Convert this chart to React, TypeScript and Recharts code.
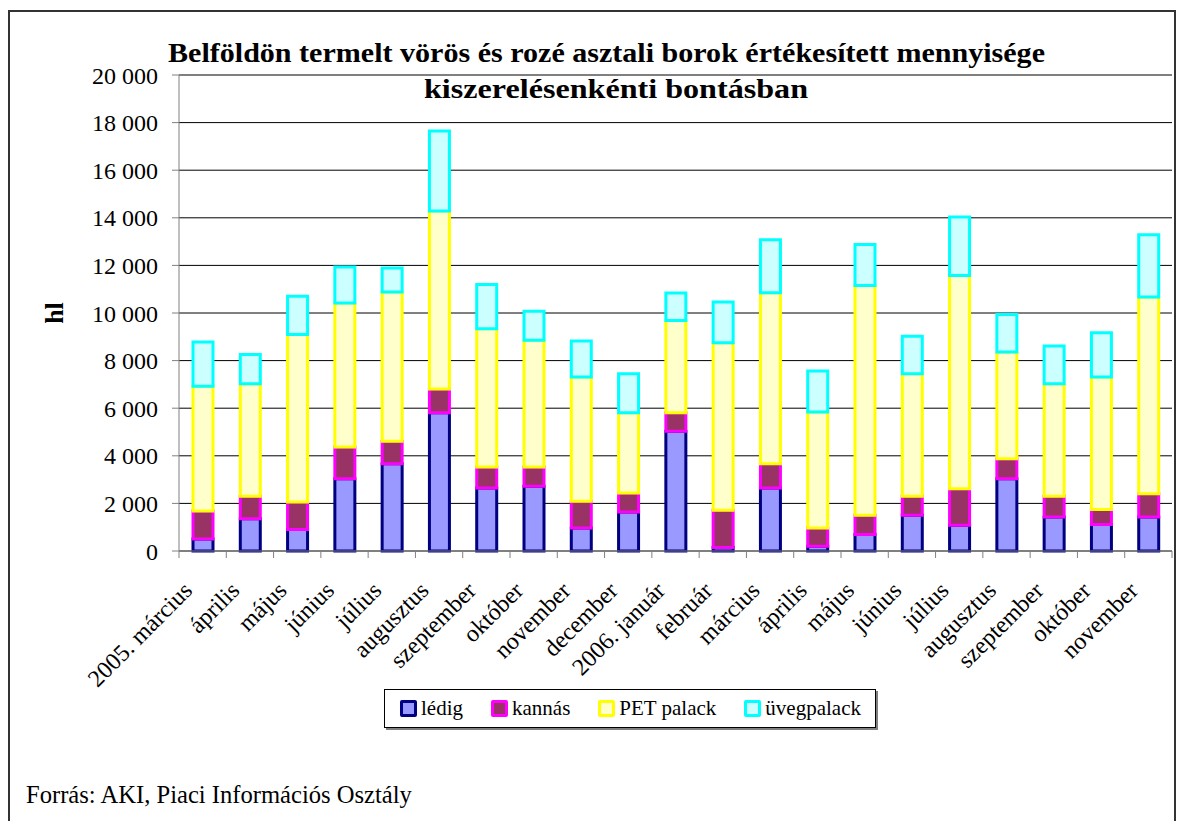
import { BarChart, Bar, XAxis, YAxis, CartesianGrid } from "recharts"

const months = [
  "2005. március", "április", "május", "június", "július", "augusztus",
  "szeptember", "október", "november", "december", "2006. január", "február",
  "március", "április", "május", "június", "július", "augusztus",
  "szeptember", "október", "november",
]

// hl
const ledig = [500, 1360, 900, 3040, 3670, 5810, 2650, 2720, 970, 1640, 5030, 150, 2650, 200, 690, 1500, 1080, 3040, 1430, 1110, 1430]
const kannas = [1180, 940, 1160, 1330, 940, 1000, 880, 810, 1120, 800, 780, 1560, 1020, 770, 810, 800, 1540, 840, 870, 630, 980]
const pet = [5240, 4730, 7040, 6050, 6270, 7480, 5810, 5320, 5220, 3370, 3880, 7040, 7180, 4870, 9660, 5150, 8960, 4480, 4730, 5570, 8260]
const uveg = [1860, 1230, 1600, 1510, 1010, 3360, 1860, 1220, 1510, 1640, 1150, 1710, 2230, 1720, 1720, 1570, 2450, 1580, 1580, 1860, 2620]

const yTicks = [0, 2000, 4000, 6000, 8000, 10000, 12000, 14000, 16000, 18000, 20000]

const SERIES = [
  { key: "ledig", name: "lédig", fill: "#9999FF", stroke: "#000080" },
  { key: "kannas", name: "kannás", fill: "#993366", stroke: "#FF00FF" },
  { key: "pet", name: "PET palack", fill: "#FFFFCC", stroke: "#FFFF00" },
  { key: "uveg", name: "üvegpalack", fill: "#CCFFFF", stroke: "#00FFFF" },
]

const data = months.map((month, i) => ({
  month,
  ledig: ledig[i],
  kannas: kannas[i],
  pet: pet[i],
  uveg: uveg[i],
}))

const W = 1179
const H = 821
const PLOT = { left: 179, right: 1172, top: 75, bottom: 551 }
const FONT = '"Liberation Serif", "Times New Roman", serif'

const fmt = (v: number) => String(v).replace(/\B(?=(\d{3})+(?!\d))/g, " ")

// category ticks sit between the bars, labels are rotated 45°
function MonthTick(props: any) {
  const { x, y, payload, index } = props
  const band = (PLOT.right - PLOT.left) / months.length
  const ax = x - 9
  const ay = y + 41
  return (
    <g>
      <line x1={x - band / 2} x2={x - band / 2} y1={y} y2={y + 7} stroke="#808080" />
      {index === months.length - 1 && (
        <line x1={x + band / 2} x2={x + band / 2} y1={y} y2={y + 7} stroke="#808080" />
      )}
      <text
        x={ax}
        y={ay}
        textAnchor="end"
        transform={`rotate(-45 ${ax} ${ay})`}
        fontSize={24}
        fontFamily={FONT}
        fill="#000"
      >
        {payload.value}
      </text>
    </g>
  )
}

function LegendBox() {
  return (
    <div
      style={{
        position: "absolute", left: 384, top: 689, width: 492, height: 39,
        boxSizing: "border-box", border: "1px solid #000", background: "#fff",
        boxShadow: "2px 2px 0 #808080", display: "flex", alignItems: "center",
        paddingLeft: 15, fontFamily: FONT, fontSize: 21, whiteSpace: "nowrap",
      }}
    >
      {SERIES.map((s) => (
        <div key={s.key} style={{ display: "flex", alignItems: "center", marginRight: 28 }}>
          <span
            style={{
              display: "inline-block", width: 17, height: 17, boxSizing: "border-box",
              background: s.fill, border: `3px solid ${s.stroke}`, borderRadius: 2, marginRight: 4,
            }}
          />
          <span>{s.name}</span>
        </div>
      ))}
    </div>
  )
}

export default function App() {
  return (
    <div style={{ position: "absolute", left: 0, top: 0, width: W, height: H, background: "#fff", overflow: "hidden" }}>
      {/* frame */}
      <div
        style={{
          position: "absolute", left: 8, top: 10, width: 1168, height: 900, boxSizing: "border-box",
          border: "2px solid #333",
        }}
      />

      <BarChart
        width={W}
        height={H}
        data={data}
        margin={{ top: PLOT.top, right: W - PLOT.right, bottom: H - PLOT.bottom - 40, left: PLOT.left - 100 }}
        barSize={20}
        style={{ position: "absolute", left: 0, top: 0 }}
      >
        <CartesianGrid vertical={false} stroke="#000" />
        <XAxis
          dataKey="month"
          height={40}
          interval={0}
          tickLine={false}
          tickSize={0}
          tickMargin={0}
          stroke="#808080"
          tick={<MonthTick />}
        />
        <YAxis
          width={100}
          domain={[0, 20000]}
          ticks={yTicks}
          tickFormatter={fmt}
          tickSize={7}
          tickMargin={14}
          stroke="#808080"
          tick={{ fill: "#000", fontSize: 24, fontFamily: FONT }}
        />
        {SERIES.map((s) => (
          <Bar
            key={s.key}
            dataKey={s.key}
            name={s.name}
            stackId="a"
            fill={s.fill}
            stroke={s.stroke}
            strokeWidth={3}
            isAnimationActive={false}
          />
        ))}
      </BarChart>

      {/* title */}
      <svg width={W} height={120} style={{ position: "absolute", left: 0, top: 0, pointerEvents: "none" }}>
        <text x={168} y={62} textLength={877} lengthAdjust="spacingAndGlyphs" fontFamily={FONT} fontWeight="bold" fontSize={27}>
          Belföldön termelt vörös és rozé asztali borok értékesített mennyisége
        </text>
        <text x={424} y={98} textLength={384} lengthAdjust="spacingAndGlyphs" fontFamily={FONT} fontWeight="bold" fontSize={27}>
          kiszerelésenkénti bontásban
        </text>
      </svg>

      {/* y axis label */}
      <div
        style={{
          position: "absolute", left: 55, top: 313, transform: "translate(-50%, -50%) rotate(-90deg)",
          fontFamily: FONT, fontWeight: "bold", fontSize: 26,
        }}
      >
        hl
      </div>

      <LegendBox />

      <div style={{ position: "absolute", left: 26, top: 782, fontFamily: FONT, fontSize: 24.6, lineHeight: "26px" }}>
        Forrás: AKI, Piaci Információs Osztály
      </div>
    </div>
  )
}
